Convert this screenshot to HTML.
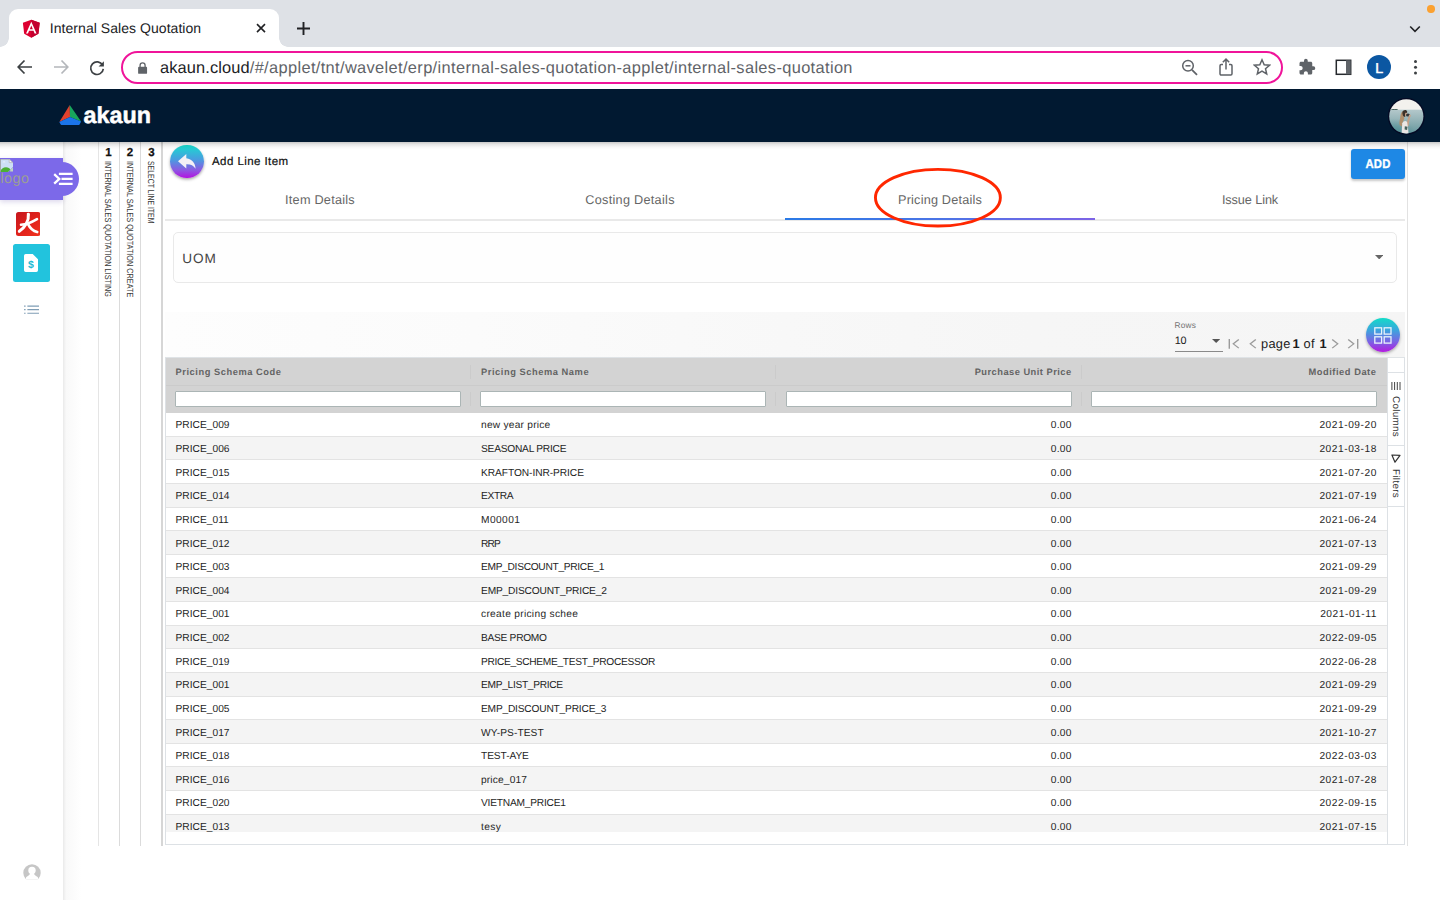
<!DOCTYPE html>
<html>
<head>
<meta charset="utf-8">
<title>Internal Sales Quotation</title>
<style>
*{box-sizing:border-box;margin:0;padding:0}
html,body{width:1440px;height:900px;overflow:hidden;background:#fff;font-family:"Liberation Sans",sans-serif;color:#222;text-rendering:geometricPrecision}
.abs{position:absolute}
#root{position:relative;width:1440px;height:900px;overflow:hidden;background:#fff}
/* ---------- browser chrome ---------- */
#tabstrip{left:0;top:0;width:1440px;height:47px;background:#dee1e6}
#tab{left:9px;top:9px;width:270px;height:38px;background:#fff;border-radius:9px 9px 0 0}
#tab:before,#tab:after{content:"";position:absolute;bottom:0;width:9px;height:9px;background:radial-gradient(circle at 0 0,rgba(255,255,255,0) 8.5px,#fff 9px)}
#tab:before{left:-9px}
#tab:after{right:-9px;transform:scaleX(-1)}
#tabtitle{left:49.800px;top:19.500px;font-size:14px;color:#202124;white-space:nowrap;letter-spacing:0.05px}
#toolbar{left:0;top:47px;width:1440px;height:42px;background:#fff}
#urlbar{left:121px;top:51px;width:1162px;height:33px;border:2px solid #f0149a;border-radius:17px;background:#fff}
#url{left:160px;top:59px;font-size:16.4px;color:#5f6368;white-space:nowrap;letter-spacing:0.05px}
#url b{font-weight:normal;color:#202124;letter-spacing:0.12px}
#urlrest{letter-spacing:0.355px}
/* ---------- app header ---------- */
#apphead{left:0;top:89px;width:1440px;height:52.900px;background:#011931}
#headshadow{left:0;top:141.900px;width:1440px;height:8px;background:linear-gradient(180deg,rgba(0,0,0,.22) 0,rgba(0,0,0,.1) 30%,rgba(0,0,0,.03) 65%,rgba(0,0,0,0) 100%)}
/* ---------- sidebar ---------- */
#sideshadow{left:63px;top:142px;width:36px;height:758px;background:linear-gradient(90deg,#e9e9e9 0,#f1f1f1 4%,#f9f9f9 9%,#fbfbfb 25%,#ffffff 52%)}
#sidebar{left:0;top:142px;width:63px;height:758px;background:#fff}
.vline{top:142px;width:1px;height:703.800px;background:#dbdbdb}
.vnum{top:147px;-webkit-text-stroke:.25px #111;width:21px;text-align:center;font-size:11.5px;font-weight:bold;color:#111}
.vtxt{top:160.500px;font-size:8.900px;color:#3a3a3a;white-space:nowrap;transform-origin:0 0;letter-spacing:0}
/* ---------- content ---------- */
.tab{top:193px;width:310px;text-align:center;font-size:12.700px;color:#666;white-space:nowrap;letter-spacing:.28px}

/* sidebar */
#purple{left:0;top:158px;width:63px;height:41.700px;background:#7c69e9;box-shadow:0 2px 5px rgba(80,60,160,.2)}
#purpler{left:40px;top:162.300px;width:39px;height:33.700px;background:#7c69e9;border-radius:0 17px 17px 0}
#logotxt{left:.5px;top:170.600px;font-size:14.400px;color:#9b9e96;letter-spacing:.42px}
/* content */
#backbtn{left:170px;top:144.500px;width:33.500px;height:33.500px;border-radius:50%;background:linear-gradient(180deg,#18dccf 0%,#4a9be0 45%,#8b5be2 75%,#b312e0 100%);box-shadow:0 1.500px 3px rgba(0,0,0,.35)}
#title{left:212px;top:156px;font-size:11.500px;color:#111;white-space:nowrap;letter-spacing:.43px;font-weight:normal;-webkit-text-stroke:.2px #111}
#tabline{left:165px;top:219.300px;width:1240px;height:1.600px;background:#e9e9e9}
#tabact{left:785px;top:217.800px;width:310px;height:2px;background:linear-gradient(90deg,#2a7ae6 0%,#4b74e6 50%,#7d63e6 100%)}
#ellipse{left:873.300px;top:167.600px;width:128.900px;height:59.900px;border:2.900px solid #ff2a00;border-radius:50%}
#addbtn{left:1351.300px;top:149.100px;width:53.600px;height:29.800px;background:#1e88e5;border-radius:3px;box-shadow:0 1.200px 2.500px rgba(0,0,0,.22);-webkit-text-stroke:.35px #fff;color:#fff;font-weight:bold;font-size:12.600px;text-align:center;line-height:31.200px;letter-spacing:.2px}
#uom{left:173px;top:232px;width:1224px;height:50.800px;border:1px solid #e9e9e9;border-radius:5px;background:#fefefe}
#uomtxt{left:182.200px;top:250.600px;font-size:13.600px;color:#444;letter-spacing:.9px}
#gridbar{left:165px;top:312px;width:1240px;height:46px;background:linear-gradient(90deg,#fdfdfd 0%,#fbfbfb 25%,#f8f8f8 50%,#f6f6f6 70%,#f5f5f5 100%)}
#rowslbl{left:1174.500px;top:319.500px;font-size:8.300px;color:#747474;letter-spacing:.2px}
#rowsval{left:1174.800px;top:334.700px;font-size:10.800px;color:#222;letter-spacing:-.3px}
#rowsline{left:1174.500px;top:351px;width:48.500px;height:1px;background:#8a8a8a}
.pg{top:336px;font-size:12.800px;color:#1c1c1c;white-space:nowrap;letter-spacing:.3px}
#gridbtn{left:1366px;top:318.400px;width:34px;height:34px;border-radius:50%;background:linear-gradient(180deg,#12dcc8 0%,#3aa6dd 35%,#7b62e4 70%,#b31be0 100%);box-shadow:0 1.500px 3px rgba(0,0,0,.3)}
/* grid */
#gridwrap{left:164.700px;top:357.500px;width:1240.300px;height:487.300px;border:1px solid #dde1e5;border-top:none;background:#fff;overflow:hidden}
#ghead{left:165.500px;top:358.200px;width:1221.300px;height:54.600px;background:#d3d3d3}
#gtop{left:164.700px;top:357.100px;width:1240.300px;height:1.400px;background:#dfe3e6}
#gheadline{left:165.500px;top:385.200px;width:1221.500px;height:1px;background:#cbcbcb}
.hsep{width:1px;background:#cbcbcb;margin-left:-.8px}
.hlab{top:367.300px;font-size:9.300px;font-weight:bold;color:#636363;white-space:nowrap;letter-spacing:.55px}
.finp{top:391.200px;width:286px;height:15.600px;background:#fff;border:1px solid #abb5b5;border-radius:1px;margin-left:-.6px}
#rowsclip{left:165.500px;top:0;width:1221.500px;height:831.500px;overflow:hidden}
.row{position:absolute;left:0;width:1221.500px;height:23.620px;border-bottom:1px solid #e3e3e3;font-size:10.200px;color:#1f1f1f;line-height:24.200px;white-space:nowrap;letter-spacing:0}
.row span{position:absolute;top:1.400px}
.c1{left:10px;letter-spacing:.03px}.c2{left:315.500px}.c3{right:315.300px;letter-spacing:.27px}.c4{right:10.100px;letter-spacing:.54px}
#sidepanel{left:1386.500px;top:358px;width:17.500px;height:486px;background:#fff;border-left:1px solid #dde1e5}
.sp{left:1387px;width:17px;height:1px;background:#dde1e5}
.sptxt{font-size:9.800px;color:#333;transform-origin:0 0;transform:rotate(90deg);white-space:nowrap;letter-spacing:.35px}
#rightline{left:1407px;top:142px;width:1.200px;height:703.800px;background:#e2e2e2}
#bottomline{left:162px;top:844px;width:1245px;height:1.300px;background:#dedede}

</style>
</head>
<body>
<div id="root">

<!-- ================= BROWSER CHROME ================= -->
<div id="tabstrip" class="abs"></div>
<div id="tab" class="abs"></div>
<svg class="abs" style="left:20.300px;top:16.600px" width="22.600" height="22.600" viewBox="0 0 250 250"><path fill="#dd0031" d="M125 30 31.9 63.2l14.2 123.1L125 230l78.9-43.7 14.2-123.1z"/><path fill="#c3002f" d="M125 30v22.2-.1V230l78.9-43.7 14.2-123.1L125 30z"/><path fill="#fff" d="M125 52.1 66.8 182.6h21.7l11.7-29.2h49.4l11.7 29.2H183L125 52.1zm17 83.3h-34l17-40.9 17 40.9z"/></svg>
<div id="tabtitle" class="abs">Internal Sales Quotation</div>
<svg class="abs" style="left:255px;top:22px" width="12" height="12" viewBox="0 0 12 12"><path d="M2 2.100l8 8M10 2.100l-8 8" stroke="#202124" stroke-width="1.600" fill="none"/></svg>
<svg class="abs" style="left:296px;top:20.500px" width="15" height="15" viewBox="0 0 15 15"><path d="M7.5 1v13M1 7.500h13" stroke="#202124" stroke-width="1.900" fill="none"/></svg>
<svg class="abs" style="left:1409.200px;top:24.500px" width="12" height="8" viewBox="0 0 12 8"><path d="M1.200 1.500l4.800 4.800 4.800-4.800" stroke="#202124" stroke-width="1.600" fill="none"/></svg>
<div class="abs" style="left:1427.300px;top:5.200px;width:7.400px;height:7.400px;border-radius:50%;background:#fba131"></div>

<div id="toolbar" class="abs"></div>
<div id="urlbar" class="abs"></div>
<div id="url" class="abs"><b>akaun.cloud</b><span id="urlrest">/#/applet/tnt/wavelet/erp/internal-sales-quotation-applet/internal-sales-quotation</span></div>


<!-- nav icons -->
<svg class="abs" style="left:16px;top:58px" width="18" height="18" viewBox="0 0 18 18"><path d="M16 9H2.600M8.500 2.500 2.200 9l6.300 6.500" stroke="#3c4043" stroke-width="1.700" fill="none"/></svg>
<svg class="abs" style="left:51.600px;top:58px" width="18" height="18" viewBox="0 0 18 18"><path d="M2 9h13.400M9.500 2.500 15.800 9l-6.300 6.500" stroke="#b4b7bb" stroke-width="1.700" fill="none"/></svg>
<svg class="abs" style="left:87.700px;top:58.500px" width="18" height="18" viewBox="0 0 18 18"><path d="M14.600 6.200A6.300 6.300 0 1 0 15.300 9.800" stroke="#3c4043" stroke-width="1.700" fill="none"/><path d="M15.900 2.200v5.300h-5.300z" fill="#3c4043"/></svg>
<!-- lock -->
<svg class="abs" style="left:136.500px;top:61.500px" width="11.200" height="12.300" viewBox="0 0 12 13"><rect x="1.200" y="5" width="9.600" height="7.600" rx="1" fill="#5f6368"/><path d="M3.300 5.500V3.600a2.700 2.700 0 0 1 5.400 0v1.900" stroke="#5f6368" stroke-width="1.400" fill="none"/></svg>
<!-- zoom -->
<svg class="abs" style="left:1180px;top:58px" width="19" height="19" viewBox="0 0 19 19"><circle cx="8" cy="7.800" r="5.300" stroke="#5f6368" stroke-width="1.500" fill="none"/><path d="M12 11.800l5 5" stroke="#5f6368" stroke-width="1.700"/><path d="M5.500 7.800h5" stroke="#5f6368" stroke-width="1.500"/></svg>
<!-- share -->
<svg class="abs" style="left:1218px;top:57px" width="16" height="20" viewBox="0 0 16 20"><path d="M5 7.500H3.200a1.200 1.200 0 0 0-1.200 1.200v8.100A1.200 1.200 0 0 0 3.200 18h9.600a1.200 1.200 0 0 0 1.200-1.200V8.700a1.200 1.200 0 0 0-1.200-1.200H11" stroke="#5f6368" stroke-width="1.500" fill="none"/><path d="M8 12.500V2.300M4.800 5.300 8 2.100l3.200 3.200" stroke="#5f6368" stroke-width="1.500" fill="none"/></svg>
<!-- star -->
<svg class="abs" style="left:1253px;top:58px" width="18" height="18" viewBox="0 0 18 18"><path d="M9 1.800l2.200 4.900 5.300.5-4 3.500 1.200 5.200L9 13.200l-4.700 2.700 1.200-5.200-4-3.500 5.300-.5z" stroke="#5f6368" stroke-width="1.500" fill="none" stroke-linejoin="miter"/></svg>
<!-- puzzle -->
<svg class="abs" style="left:1298px;top:58px" width="18" height="18" viewBox="0 0 24 24"><path fill="#5f6368" d="M20.500 11H19V7c0-1.100-.9-2-2-2h-4V3.500a2.500 2.500 0 0 0-5 0V5H4c-1.100 0-1.990.9-1.990 2v3.800H3.500c1.490 0 2.700 1.210 2.700 2.700s-1.210 2.700-2.700 2.700H2V20c0 1.100.9 2 2 2h3.800v-1.500c0-1.490 1.210-2.700 2.700-2.700 1.490 0 2.700 1.210 2.700 2.700V22H17c1.100 0 2-.9 2-2v-4h1.500a2.500 2.500 0 0 0 0-5z"/></svg>
<!-- side panel -->
<svg class="abs" style="left:1335px;top:59px" width="17" height="17" viewBox="0 0 17 17"><rect x="1.300" y="1.300" width="14.400" height="14" stroke="#26292d" stroke-width="1.500" fill="none"/><rect x="11" y="1.300" width="4.700" height="14" fill="#5f6368"/></svg>
<!-- profile -->
<div class="abs" style="left:1367px;top:55px;width:24.300px;height:24.300px;border-radius:50%;background:#0b57a2;color:#fff;font-size:14.200px;text-align:center;line-height:28.800px;-webkit-text-stroke:.5px #fff">L</div>
<!-- dots -->
<div class="abs" style="left:1413.700px;top:59.900px;width:3.400px;height:3.400px;border-radius:50%;background:#3c4043;box-shadow:0 5.800px 0 #3c4043,0 11.600px 0 #3c4043"></div>

<!-- ================= APP HEADER ================= -->
<div id="apphead" class="abs"></div>
<!-- akaun logo -->
<svg class="abs" style="left:58px;top:103px" width="100" height="26" viewBox="0 0 100 26">
 <path d="M11.750 2.100 1.300 19.100 12 14z" fill="#e2412d"/>
 <path d="M11.750 2.100 23.100 18.600 12 14z" fill="#18a65c"/>
 <path d="M1.300 19.100 12 14l11.100 4.600-1.500 2.900a.8.800 0 0 1-.7.400H3.400a.8.800 0 0 1-.7-.4z" fill="#1b74e9"/>
 <text x="25.600" y="20" font-family="Liberation Sans, sans-serif" font-weight="bold" font-size="23.200" fill="#fff" stroke="#fff" stroke-width=".5" textLength="67.500" lengthAdjust="spacingAndGlyphs">akaun</text>
</svg>
<!-- avatar -->
<svg class="abs" style="left:1388px;top:98px" width="37" height="37" viewBox="0 0 37 37">
 <defs><clipPath id="avc"><circle cx="18.300" cy="18.300" r="17.100"/></clipPath>
 <linearGradient id="sea" x1="0" y1="0" x2="0" y2="1"><stop offset="0" stop-color="#b4c8cb"/><stop offset=".35" stop-color="#98b6ba"/><stop offset=".7" stop-color="#79a3a8"/><stop offset="1" stop-color="#5f959b"/></linearGradient>
 <radialGradient id="seal" cx=".15" cy=".95" r=".6"><stop offset="0" stop-color="#3f868d" stop-opacity=".75"/><stop offset="1" stop-color="#3f868d" stop-opacity="0"/></radialGradient></defs>
 <circle cx="18.300" cy="18.300" r="18.500" fill="#040a24"/>
 <g clip-path="url(#avc)">
  <rect x="0" y="0" width="37" height="12" fill="#f3f1ed"/>
  <rect x="0" y="11.700" width="37" height="26" fill="url(#sea)"/>
  <rect x="0" y="11.700" width="37" height="26" fill="url(#seal)"/>
  <path d="M2.600 11.900c1.500-1.100 3-.9 4.200-.6 1.300-.6 2.600-.3 3.400.6z" fill="#3e5c58"/>
  <path d="M15 13.200c-1.800.6-2.400 3-2.700 5.500-.4 3.200-1.300 5.600-.7 8.200l2.300 1.600c.4-3.300 1.200-5.700 2.400-7.800z" fill="#b08f6c"/>
  <path d="M14.500 13.800c.7-2 3.600-2.600 4.600-.6.300.9 0 1.800-.5 2.700l-1.600 3-1.600-.6c-.8-1.500-1.200-3-.9-4.500z" fill="#3b3129"/>
  <path d="M17.600 14.800c.8-.3 1.500.2 1.600 1.100l-.3 2.200-1.500.3c-.5-1.200-.5-2.600.2-3.600z" fill="#c9a78e"/>
  <ellipse cx="20" cy="17" rx="2" ry="1.600" fill="#30363a"/>
  <ellipse cx="21.800" cy="17.700" rx="1" ry="1.200" fill="#c7a48b"/>
  <path d="M20.400 18.600l1.700.3c-.5 3-1.300 6-1.500 9.300l-1.800-.3c-.1-3.300.8-6.400 1.600-9.300z" fill="#c49f86"/>
  <path d="M14.300 25.200c1.200-2.400 3.400-2.900 4.800-1.200l.9 5.500.6 6.500h-7l.3-5.800z" fill="#ebe6e4"/>
  <path d="M16.800 28.300l2.800.5-.5 3.200-2.500-.5z" fill="#46625d"/>
 </g>
</svg>

<!-- ================= SIDEBAR ================= -->
<div id="sideshadow" class="abs"></div>
<div id="sidebar" class="abs"></div>
<div id="purple" class="abs"></div>
<div id="purpler" class="abs"></div>
<!-- broken image icon -->
<svg class="abs" style="left:0;top:158.500px" width="13.500" height="13" viewBox="0 0 13.500 13"><defs><clipPath id="bi"><path d="M0 0h9.500l3.500 3.500V8L8 13H0z"/></clipPath></defs><g clip-path="url(#bi)"><rect width="13.500" height="13" fill="#cddff6"/><path d="M2.500 3.300c.5-1.200 2.500-1.200 3 0z" fill="#fff"/><path d="M0 13c.8-3.200 3.300-4.800 6-4.800 2 0 4 1 5 3V13z" fill="#4caf35"/><path d="M0 0v13" stroke="#9a9a9a" stroke-width="1.600"/><path d="M0 0h9.500" stroke="#9a9a9a" stroke-width="1"/></g><path d="M9.200.3v3.300h3.500z" fill="#f5f5f5" stroke="#aaa" stroke-width=".6"/><path d="M10.500 10.200 13 8.500V12.500h-3z" fill="#bcd6c0"/></svg>
<div id="logotxt" class="abs">logo</div>
<svg class="abs" style="left:52.500px;top:171px" width="20" height="16" viewBox="0 0 20 16"><path d="M5.900 2.900h13.700M8.500 7.900h11.100M5.900 12.900h13.700" stroke="#fff" stroke-width="2.300"/><path d="M1.200 3.200 6.300 7.900 1.200 12.600" stroke="#fff" stroke-width="2.300" fill="none"/></svg>
<!-- red icon -->
<svg class="abs" style="left:15.600px;top:212.200px" width="24.600" height="24" viewBox="0 0 24.600 24"><defs><linearGradient id="rg" x1="0" y1="0" x2="1" y2="1"><stop offset="0" stop-color="#c5161d"/><stop offset=".55" stop-color="#e2231c"/><stop offset="1" stop-color="#f0341f"/></linearGradient></defs><rect width="24.600" height="24" rx="2.500" fill="url(#rg)"/><g fill="none" stroke="#fff" stroke-linecap="round"><path d="M12.300 2.300C13.200 8.500 9.300 15.200 3.300 19.300" stroke-width="3"/><path d="M5 12.800C10.500 12.600 16 10.200 21 7.200" stroke-width="2.600"/><path d="M12.200 12.300C14 16 17 18.800 21.200 20" stroke-width="2.700"/></g><path d="M10.600 1.200l3.200.6-.6 3z" fill="#fff"/></svg>
<!-- cyan tile -->
<div class="abs" style="left:13px;top:244.300px;width:37.100px;height:37.800px;border-radius:2.500px;background:#22c3dd"></div>
<svg class="abs" style="left:24px;top:253.800px" width="14" height="18" viewBox="0 0 14 18"><path d="M1.700 0h7L14 5.300V16.300A1.700 1.700 0 0 1 12.300 18H1.700A1.700 1.700 0 0 1 0 16.300V1.700A1.700 1.700 0 0 1 1.700 0z" fill="#fff"/><text x="7" y="14" text-anchor="middle" font-family="Liberation Sans, sans-serif" font-weight="bold" font-size="10.500" fill="#22b8d3">$</text></svg>
<!-- list icon -->
<svg class="abs" style="left:23.700px;top:304.600px" width="15.200" height="9.400" viewBox="0 0 16 10"><path d="M3.500 1.200H16M3.500 5H16M3.500 8.800H16" stroke="#7f9db5" stroke-width="1.300"/><path d="M0 1.200h1.600M0 5h1.600M0 8.800h1.600" stroke="#7f9db5" stroke-width="1.300"/></svg>
<!-- bottom user icon -->
<svg class="abs" style="left:22.500px;top:863.500px" width="18" height="18" viewBox="0 0 18 18"><defs><clipPath id="uc"><rect x="0" y="0" width="18" height="15.300"/></clipPath></defs><g clip-path="url(#uc)"><circle cx="9" cy="9" r="8.700" fill="#c6c6c6"/><circle cx="9" cy="6.400" r="3.700" fill="#fff"/><path d="M7.200 8.500h3.600c0 2.200 1.400 3.200 3.900 4.400l1.300 4H2l1.300-4c2.500-1.200 3.900-2.200 3.900-4.400z" fill="#fff"/></g></svg>

<!-- breadcrumb columns -->
<div class="abs vline" style="left:98px;background:#e5e5e5"></div>
<div class="abs vline" style="left:119px"></div>
<div class="abs vline" style="left:140.200px"></div>
<div class="abs vline" style="left:161.300px;width:1.500px;background:#d6d6d6"></div>
<div class="abs vnum" style="left:98px">1</div>
<div class="abs vnum" style="left:119.500px">2</div>
<div class="abs vnum" style="left:141px">3</div>
<div class="abs vtxt" style="left:113.300px;transform:rotate(90deg) scaleX(.821)">INTERNAL SALES QUOTATION LISTING</div>
<div class="abs vtxt" style="left:134.500px;transform:rotate(90deg) scaleX(.819)">INTERNAL SALES QUOTATION CREATE</div>
<div class="abs vtxt" style="left:156.300px;transform:rotate(90deg) scaleX(.778)">SELECT LINE ITEM</div>

<!-- ================= CONTENT ================= -->
<div id="rightline" class="abs"></div>
<div id="backbtn" class="abs"></div>
<svg class="abs" style="left:177.800px;top:154px" width="18.500" height="15.500" viewBox="0 0 18.500 14.500" preserveAspectRatio="none"><path d="M8.300 0 0 6.800l8.300 6.800V9.500c4.200-.2 7 .9 9.300 4.300C17.300 8.600 14.200 4.600 8.300 4z" fill="#f4f1f6"/></svg>
<div id="title" class="abs">Add Line Item</div>
<div id="addbtn" class="abs"><span style="display:inline-block;transform:scaleX(.9)">ADD</span></div>
<div class="abs tab" style="left:165px"><span style="letter-spacing:.24px">Item Details</span></div>
<div class="abs tab" style="left:475px"><span>Costing Details</span></div>
<div class="abs tab" style="left:785px"><span style="letter-spacing:.19px">Pricing Details</span></div>
<div class="abs tab" style="left:1095px"><span style="letter-spacing:-.09px">Issue Link</span></div>
<div id="tabline" class="abs"></div>
<div id="tabact" class="abs"></div>
<svg class="abs" style="left:870px;top:164px" width="136" height="68" viewBox="0 0 136 68"><ellipse cx="67.900" cy="33.700" rx="62.450" ry="28.350" fill="none" stroke="#ff2700" stroke-width="2.900"/></svg>
<div id="uom" class="abs"></div>
<div id="uomtxt" class="abs">UOM</div>
<svg class="abs" style="left:1374.700px;top:255px" width="8.400" height="4.400" viewBox="0 0 9 5" preserveAspectRatio="none"><path d="M0 0h9L4.500 5z" fill="#666"/></svg>

<div id="gridbar" class="abs"></div>
<div id="rowslbl" class="abs">Rows</div>
<div id="rowsval" class="abs">10</div>
<div id="rowsline" class="abs"></div>
<svg class="abs" style="left:1211.700px;top:339.200px" width="8.300" height="4" viewBox="0 0 9 5" preserveAspectRatio="none"><path d="M0 0h9L4.500 5z" fill="#555"/></svg>
<svg class="abs" style="left:1228px;top:339.100px" width="12" height="9.700" viewBox="0 0 12 11" preserveAspectRatio="none"><path d="M1.300 0v11" stroke="#9b9b9b" stroke-width="1.400"/><path d="M10.800.6 5.300 5.500l5.500 4.900" stroke="#9b9b9b" stroke-width="1.400" fill="none"/></svg>
<svg class="abs" style="left:1248.500px;top:339.100px" width="8" height="9.700" viewBox="0 0 8 11" preserveAspectRatio="none"><path d="M6.800.6 1.300 5.500l5.500 4.900" stroke="#9b9b9b" stroke-width="1.400" fill="none"/></svg>
<div class="abs pg" style="left:1261px">page</div>
<div class="abs pg" style="left:1292.500px;font-weight:bold">1</div>
<div class="abs pg" style="left:1303.500px">of</div>
<div class="abs pg" style="left:1319.500px;font-weight:bold">1</div>
<svg class="abs" style="left:1330.500px;top:339.100px" width="8" height="9.700" viewBox="0 0 8 11" preserveAspectRatio="none"><path d="M1.200.6 6.700 5.500 1.200 10.400" stroke="#9b9b9b" stroke-width="1.400" fill="none"/></svg>
<svg class="abs" style="left:1347px;top:339.100px" width="12" height="9.700" viewBox="0 0 12 11" preserveAspectRatio="none"><path d="M10.700 0v11" stroke="#9b9b9b" stroke-width="1.400"/><path d="M1.200.6 6.700 5.500 1.200 10.400" stroke="#9b9b9b" stroke-width="1.400" fill="none"/></svg>
<div id="gridbtn" class="abs"></div>
<svg class="abs" style="left:1374px;top:327px" width="18" height="17" viewBox="0 0 18 17"><rect x=".8" y=".8" width="6.800" height="6.300" fill="none" stroke="#e9f3fb" stroke-width="1.300"/><rect x="10.200" y=".8" width="6.800" height="6.300" fill="none" stroke="#e9f3fb" stroke-width="1.300"/><rect x=".8" y="9.800" width="6.800" height="6.300" fill="none" stroke="#e9f3fb" stroke-width="1.300"/><rect x="10.200" y="9.800" width="6.800" height="6.300" fill="none" stroke="#e9f3fb" stroke-width="1.300"/></svg>

<!-- grid -->
<div id="gridwrap" class="abs"></div>
<div id="rowsclip" class="abs">
<div class="row" style="top:413.10px;background:#ffffff"><span class="c1">PRICE_009</span><span class="c2" style="letter-spacing:0.231px">new year price</span><span class="c3">0.00</span><span class="c4">2021-09-20</span></div>
<div class="row" style="top:436.72px;background:#f4f4f4"><span class="c1">PRICE_006</span><span class="c2" style="letter-spacing:-0.231px">SEASONAL PRICE</span><span class="c3">0.00</span><span class="c4">2021-03-18</span></div>
<div class="row" style="top:460.34px;background:#ffffff"><span class="c1">PRICE_015</span><span class="c2" style="letter-spacing:-0.062px">KRAFTON-INR-PRICE</span><span class="c3">0.00</span><span class="c4">2021-07-20</span></div>
<div class="row" style="top:483.96px;background:#f4f4f4"><span class="c1">PRICE_014</span><span class="c2" style="letter-spacing:-0.325px">EXTRA</span><span class="c3">0.00</span><span class="c4">2021-07-19</span></div>
<div class="row" style="top:507.58px;background:#ffffff"><span class="c1">PRICE_011</span><span class="c2" style="letter-spacing:0.420px">M00001</span><span class="c3">0.00</span><span class="c4">2021-06-24</span></div>
<div class="row" style="top:531.20px;background:#f4f4f4"><span class="c1">PRICE_012</span><span class="c2" style="letter-spacing:-0.800px">RRP</span><span class="c3">0.00</span><span class="c4">2021-07-13</span></div>
<div class="row" style="top:554.82px;background:#ffffff"><span class="c1">PRICE_003</span><span class="c2" style="letter-spacing:-0.295px">EMP_DISCOUNT_PRICE_1</span><span class="c3">0.00</span><span class="c4">2021-09-29</span></div>
<div class="row" style="top:578.44px;background:#f4f4f4"><span class="c1">PRICE_004</span><span class="c2" style="letter-spacing:-0.168px">EMP_DISCOUNT_PRICE_2</span><span class="c3">0.00</span><span class="c4">2021-09-29</span></div>
<div class="row" style="top:602.06px;background:#ffffff"><span class="c1">PRICE_001</span><span class="c2" style="letter-spacing:0.300px">create pricing schee</span><span class="c3">0.00</span><span class="c4">2021-01-11</span></div>
<div class="row" style="top:625.68px;background:#f4f4f4"><span class="c1">PRICE_002</span><span class="c2" style="letter-spacing:-0.278px">BASE PROMO</span><span class="c3">0.00</span><span class="c4">2022-09-05</span></div>
<div class="row" style="top:649.30px;background:#ffffff"><span class="c1">PRICE_019</span><span class="c2" style="letter-spacing:-0.327px">PRICE_SCHEME_TEST_PROCESSOR</span><span class="c3">0.00</span><span class="c4">2022-06-28</span></div>
<div class="row" style="top:672.92px;background:#f4f4f4"><span class="c1">PRICE_001</span><span class="c2" style="letter-spacing:-0.300px">EMP_LIST_PRICE</span><span class="c3">0.00</span><span class="c4">2021-09-29</span></div>
<div class="row" style="top:696.54px;background:#ffffff"><span class="c1">PRICE_005</span><span class="c2" style="letter-spacing:-0.195px">EMP_DISCOUNT_PRICE_3</span><span class="c3">0.00</span><span class="c4">2021-09-29</span></div>
<div class="row" style="top:720.16px;background:#f4f4f4"><span class="c1">PRICE_017</span><span class="c2" style="letter-spacing:0.089px">WY-PS-TEST</span><span class="c3">0.00</span><span class="c4">2021-10-27</span></div>
<div class="row" style="top:743.78px;background:#ffffff"><span class="c1">PRICE_018</span><span class="c2" style="letter-spacing:-0.086px">TEST-AYE</span><span class="c3">0.00</span><span class="c4">2022-03-03</span></div>
<div class="row" style="top:767.40px;background:#f4f4f4"><span class="c1">PRICE_016</span><span class="c2" style="letter-spacing:0.150px">price_017</span><span class="c3">0.00</span><span class="c4">2021-07-28</span></div>
<div class="row" style="top:791.02px;background:#ffffff"><span class="c1">PRICE_020</span><span class="c2" style="letter-spacing:-0.215px">VIETNAM_PRICE1</span><span class="c3">0.00</span><span class="c4">2022-09-15</span></div>
<div class="row" style="top:814.64px;background:#f4f4f4"><span class="c1">PRICE_013</span><span class="c2" style="letter-spacing:0.400px">tesy</span><span class="c3">0.00</span><span class="c4">2021-07-15</span></div>
</div>
<div id="ghead" class="abs"></div>
<div id="gtop" class="abs"></div>
<div id="gheadline" class="abs"></div>
<div class="abs hsep" style="left:470.500px;top:365px;height:14px"></div>
<div class="abs hsep" style="left:776px;top:365px;height:14px"></div>
<div class="abs hsep" style="left:1081.500px;top:365px;height:14px"></div>
<div class="abs hsep" style="left:470.500px;top:392px;height:14px"></div>
<div class="abs hsep" style="left:776px;top:392px;height:14px"></div>
<div class="abs hsep" style="left:1081.500px;top:392px;height:14px"></div>
<div class="abs hlab" style="left:175.500px">Pricing Schema Code</div>
<div class="abs hlab" style="left:481px">Pricing Schema Name</div>
<div class="abs hlab" style="right:368.400px;letter-spacing:.48px">Purchase Unit Price</div>
<div class="abs hlab" style="right:63.500px">Modified Date</div>
<div class="abs finp" style="left:175.500px"></div>
<div class="abs finp" style="left:481px"></div>
<div class="abs finp" style="left:786.500px"></div>
<div class="abs finp" style="left:1091.500px"></div>
<div id="sidepanel" class="abs"></div>
<div class="abs sp" style="top:372px"></div>
<div class="abs sp" style="top:445px"></div>
<div class="abs sp" style="top:505.500px"></div>
<svg class="abs" style="left:1391px;top:381.700px" width="10" height="8" viewBox="0 0 10 8"><path d="M.9 0v8M3.600 0v8M6.300 0v8M9 0v8" stroke="#444" stroke-width="1"/></svg>
<div class="abs sptxt" style="left:1401.200px;top:396px">Columns</div>
<svg class="abs" style="left:1391px;top:454px" width="10" height="9" viewBox="0 0 10 9"><path d="M.9 1 9 1.300 4 8.200z" fill="none" stroke="#333" stroke-width="1.200" stroke-linejoin="round"/></svg>
<div class="abs sptxt" style="left:1401.200px;top:469px">Filters</div>


<div id="headshadow" class="abs"></div>
</div>
</body>
</html>
